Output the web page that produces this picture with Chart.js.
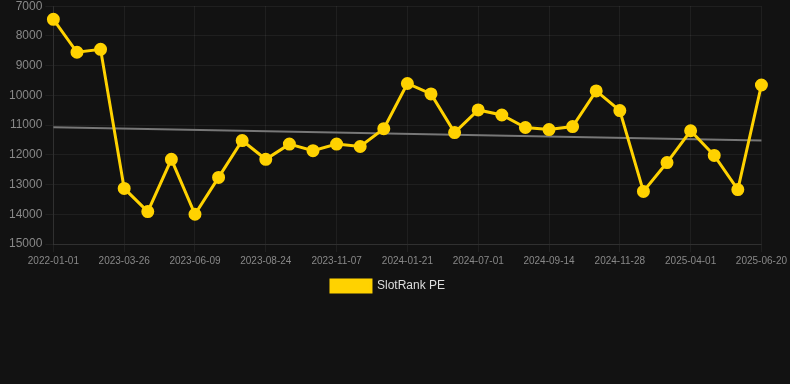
<!DOCTYPE html>
<html>
<head>
<meta charset="utf-8">
<script src="https://cdn.jsdelivr.net/npm/chart.js@4/dist/chart.umd.min.js"></script>
<style>
  html, body { margin: 0; padding: 0; background: #121212; overflow: hidden; }
  #wrap { width: 790px; height: 388px; position: relative; margin-top: -4px; }
</style>
</head>
<body>
<div id="wrap"><canvas id="c"></canvas></div>
<script>
const categories = [
  '2022-01-01', '2022-12-05', '2023-02-28', '2023-03-26', '2023-04-20', '2023-05-15',
  '2023-06-09', '2023-07-04', '2023-07-29', '2023-08-24', '2023-09-18', '2023-10-13',
  '2023-11-07', '2023-12-02', '2023-12-27', '2024-01-21', '2024-03-15', '2024-05-08',
  '2024-07-01', '2024-07-26', '2024-08-20', '2024-09-14', '2024-10-09', '2024-11-03',
  '2024-11-28', '2025-01-08', '2025-02-19', '2025-04-01', '2025-04-28', '2025-05-24',
  '2025-06-20'
];
const rankValues = [
  7440, 8550, 8450, 13130, 13910, 12150,
  14000, 12760, 11520, 12150, 11640, 11860,
  11640, 11720, 11120, 9600, 9950, 11250,
  10490, 10660, 11080, 11150, 11050, 9850,
  10510, 13230, 12260, 11190, 12020, 13170,
  9650
];
const trendValues = [11070].concat(new Array(29).fill(null), [11520]);
const yTicks = { min: 7000, max: 15000, step: 1000 };
const seriesName = 'SlotRank PE';

const FONT = "'Liberation Sans', Arial, Helvetica, sans-serif";
Chart.defaults.font.family = FONT;

new Chart(document.getElementById('c'), {
  type: 'line',
  data: {
    labels: categories,
    datasets: [
      {
        label: seriesName,
        data: rankValues,
        borderColor: '#FFD200',
        backgroundColor: '#FFD200',
        borderWidth: 3,
        pointRadius: 5,
        pointHoverRadius: 5,
        pointBackgroundColor: '#FFD200',
        pointBorderColor: '#FFD200',
        tension: 0,
        order: 1
      },
      {
        label: 'trend',
        data: trendValues,
        spanGaps: true,
        borderColor: '#777777',
        borderWidth: 2,
        pointRadius: 0,
        tension: 0,
        order: 2
      }
    ]
  },
  options: {
    responsive: true,
    maintainAspectRatio: false,
    animation: false,
    layout: { padding: { top: 0, right: 20, bottom: 82, left: 6 } },
    plugins: {
      tooltip: { enabled: false },
      legend: {
        position: 'bottom',
        labels: {
          color: '#dddddd',
          font: { size: 12, family: FONT },
          boxWidth: 40,
          boxHeight: 12,
          filter: (item) => item.text === seriesName
        }
      }
    },
    scales: {
      x: {
        type: 'category',
        offset: false,
        grid: { color: 'rgba(255,255,255,0.06)', tickLength: 8 },
        border: { color: 'rgba(255,255,255,0.08)' },
        ticks: {
          color: '#888888',
          font: { size: 10, family: FONT },
          maxRotation: 0,
          minRotation: 0,
          autoSkip: true,
          maxTicksLimit: 11
        }
      },
      y: {
        reverse: true,
        min: yTicks.min,
        max: yTicks.max,
        grid: { color: 'rgba(255,255,255,0.06)', tickLength: 8 },
        border: { color: 'rgba(255,255,255,0.08)' },
        ticks: {
          color: '#888888',
          font: { size: 12, family: FONT },
          stepSize: yTicks.step,
          callback: (v) => String(v)
        }
      }
    }
  }
});
</script>
</body>
</html>
